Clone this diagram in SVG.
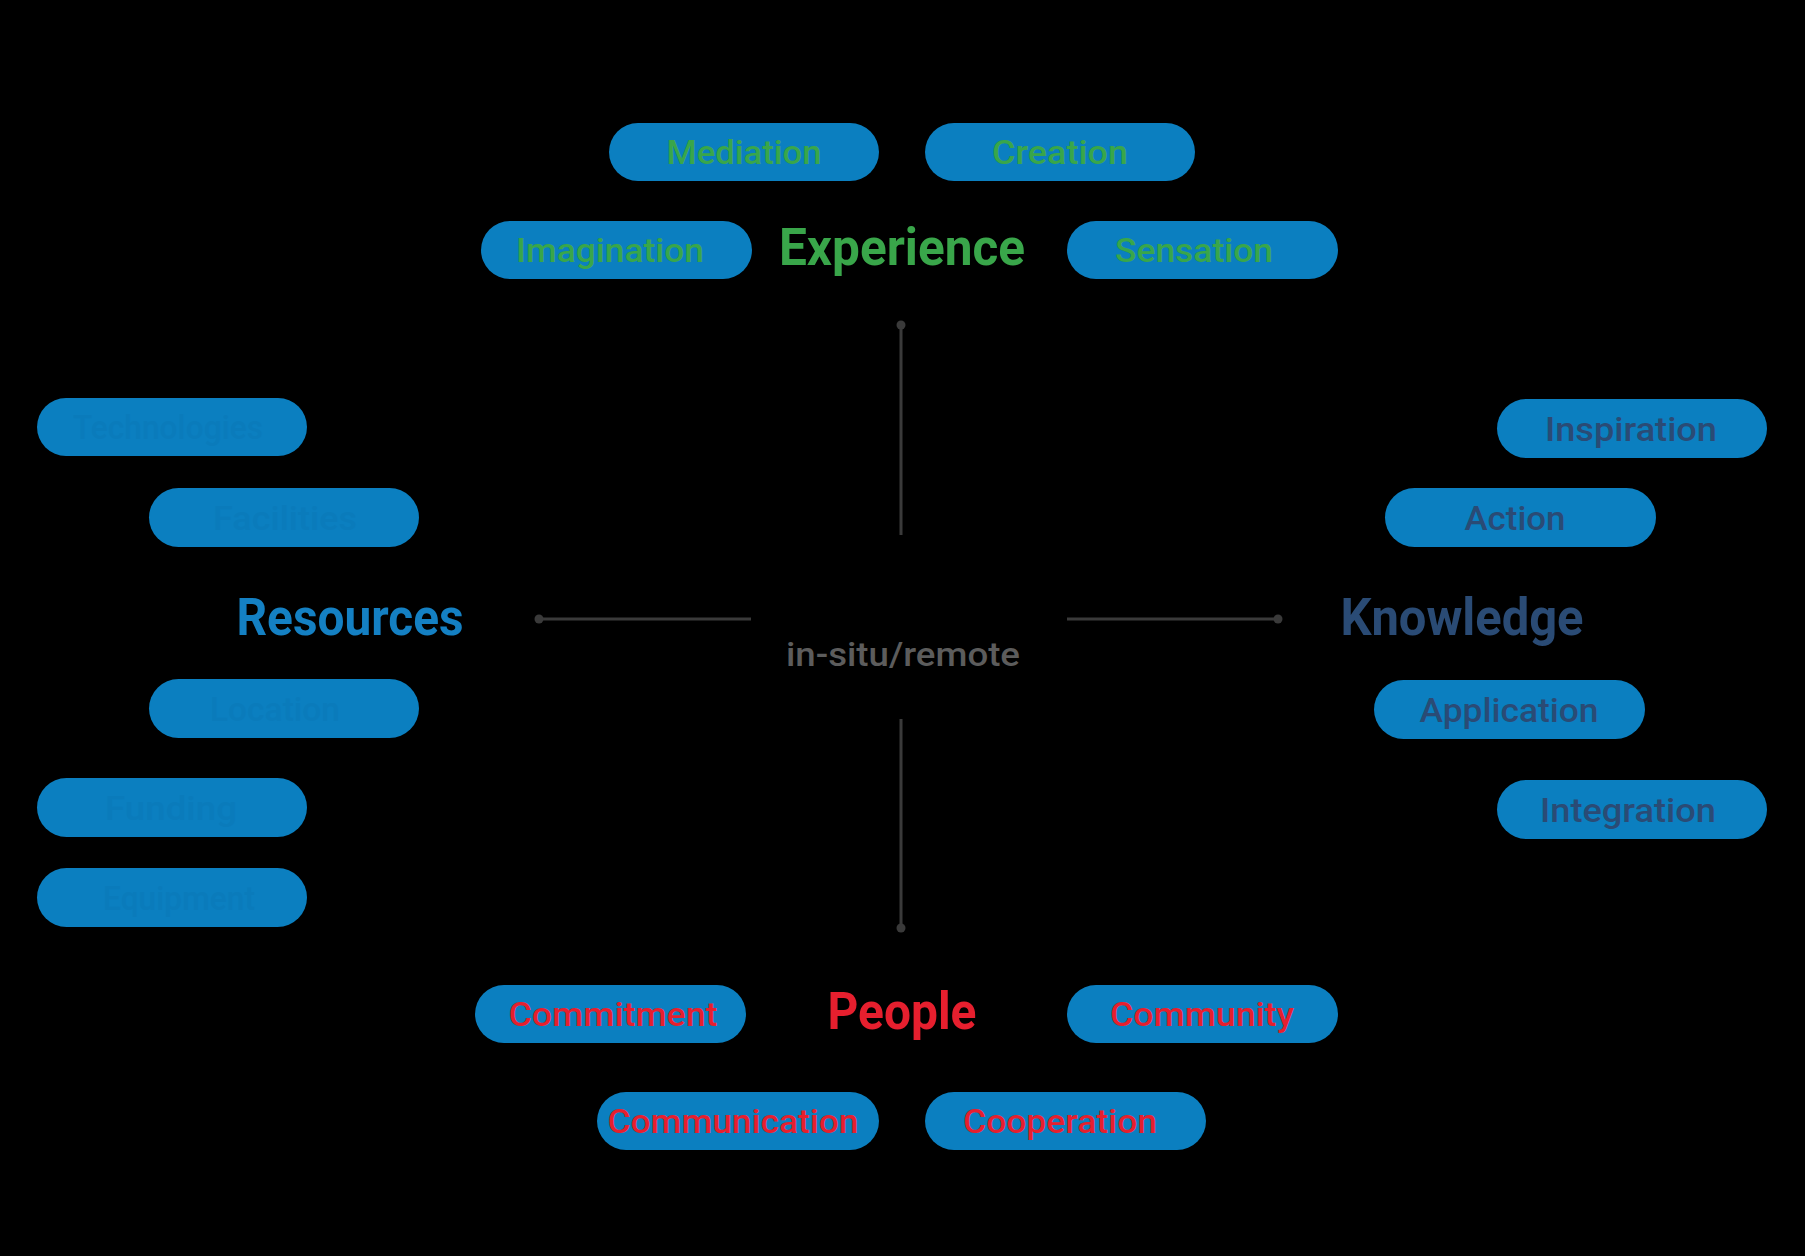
<svg xmlns="http://www.w3.org/2000/svg" width="1805" height="1256" viewBox="0 0 1805 1256">
<style>
.pill{fill:#0b7fc0}
.pt{font-family:Roboto,"Liberation Sans",sans-serif;font-weight:500;font-size:34px;text-anchor:middle}
.hd{font-family:Roboto,"Liberation Sans",sans-serif;font-weight:700;font-size:52px;text-anchor:middle}
.g{fill:#39a64a}
.n{fill:#2a4b75}
.r{fill:#e61f2e}
.b{fill:#0a7bbb}
.bh{fill:#1480c3}
.ln{stroke:#3a3a3a;stroke-width:3;fill:none}
.dot{fill:#3a3a3a}
.ctr{font-family:Roboto,"Liberation Sans",sans-serif;font-weight:500;font-size:33px;text-anchor:middle;fill:#5c5c5c}
</style>
<rect x="0" y="0" width="1805" height="1256" fill="#000"/>

<g id="connectors">
<line class="ln" x1="901" y1="325" x2="901" y2="535"/>
<circle class="dot" cx="901" cy="325" r="4.5"/>
<line class="ln" x1="901" y1="719" x2="901" y2="928"/>
<circle class="dot" cx="901" cy="928" r="4.5"/>
<line class="ln" x1="539" y1="619" x2="751" y2="619"/>
<circle class="dot" cx="539" cy="619" r="4.5"/>
<line class="ln" x1="1067" y1="619" x2="1278" y2="619"/>
<circle class="dot" cx="1278" cy="619" r="4.5"/>
</g>

<g id="center"><text class="ctr" x="903" y="666" textLength="234" lengthAdjust="spacingAndGlyphs">in-situ/remote</text></g>

<g id="experience">
<text class="hd g" x="902" y="265" textLength="246" lengthAdjust="spacingAndGlyphs">Experience</text>
</g>
<g id="mediation"><rect class="pill" x="609" y="123" width="270" height="58" rx="29"/><text class="pt g" x="744" y="164" textLength="155" lengthAdjust="spacingAndGlyphs">Mediation</text></g>
<g id="creation"><rect class="pill" x="925" y="123" width="270" height="58" rx="29"/><text class="pt g" x="1060" y="164" textLength="136" lengthAdjust="spacingAndGlyphs">Creation</text></g>
<g id="imagination"><rect class="pill" x="481" y="221" width="271" height="58" rx="29"/><text class="pt g" x="610" y="262" textLength="188" lengthAdjust="spacingAndGlyphs">Imagination</text></g>
<g id="sensation"><rect class="pill" x="1067" y="221" width="271" height="58" rx="29"/><text class="pt g" x="1194" y="262" textLength="158" lengthAdjust="spacingAndGlyphs">Sensation</text></g>

<g id="knowledge">
<text class="hd n" x="1462" y="635" textLength="243" lengthAdjust="spacingAndGlyphs">Knowledge</text>
</g>
<g id="inspiration"><rect class="pill" x="1497" y="399" width="270" height="59" rx="29.5"/><text class="pt n" x="1631" y="440.5" textLength="172" lengthAdjust="spacingAndGlyphs">Inspiration</text></g>
<g id="action"><rect class="pill" x="1385" y="488" width="271" height="59" rx="29.5"/><text class="pt n" x="1515" y="529.5" textLength="101" lengthAdjust="spacingAndGlyphs">Action</text></g>
<g id="application"><rect class="pill" x="1374" y="680" width="271" height="59" rx="29.5"/><text class="pt n" x="1509" y="721.5" textLength="179" lengthAdjust="spacingAndGlyphs">Application</text></g>
<g id="integration"><rect class="pill" x="1497" y="780" width="270" height="59" rx="29.5"/><text class="pt n" x="1628" y="821.5" textLength="176" lengthAdjust="spacingAndGlyphs">Integration</text></g>

<g id="resources">
<text class="hd bh" x="350" y="635" textLength="227" lengthAdjust="spacingAndGlyphs">Resources</text>
</g>
<g id="technologies"><rect class="pill" x="37" y="398" width="270" height="58" rx="29"/><text class="pt b" x="168" y="439" textLength="190" lengthAdjust="spacingAndGlyphs">Technologies</text></g>
<g id="facilities"><rect class="pill" x="149" y="488" width="270" height="59" rx="29.5"/><text class="pt b" x="285" y="529.5" textLength="144" lengthAdjust="spacingAndGlyphs">Facilities</text></g>
<g id="location"><rect class="pill" x="149" y="679" width="270" height="59" rx="29.5"/><text class="pt b" x="275" y="720.5" textLength="130" lengthAdjust="spacingAndGlyphs">Location</text></g>
<g id="funding"><rect class="pill" x="37" y="778" width="270" height="59" rx="29.5"/><text class="pt b" x="171" y="819.5" textLength="132" lengthAdjust="spacingAndGlyphs">Funding</text></g>
<g id="equipment"><rect class="pill" x="37" y="868" width="270" height="59" rx="29.5"/><text class="pt b" x="179" y="909.5" textLength="152" lengthAdjust="spacingAndGlyphs">Equipment</text></g>

<g id="people">
<text class="hd r" x="902" y="1029" textLength="149" lengthAdjust="spacingAndGlyphs">People</text>
</g>
<g id="commitment"><rect class="pill" x="475" y="985" width="271" height="58" rx="29"/><text class="pt r" x="613" y="1026" textLength="209" lengthAdjust="spacingAndGlyphs">Commitment</text></g>
<g id="community"><rect class="pill" x="1067" y="985" width="271" height="58" rx="29"/><text class="pt r" x="1202" y="1026" textLength="184" lengthAdjust="spacingAndGlyphs">Community</text></g>
<g id="communication"><rect class="pill" x="597" y="1092" width="282" height="58" rx="29"/><text class="pt r" x="733" y="1133" textLength="251" lengthAdjust="spacingAndGlyphs">Communication</text></g>
<g id="cooperation"><rect class="pill" x="925" y="1092" width="281" height="58" rx="29"/><text class="pt r" x="1060" y="1133" textLength="194" lengthAdjust="spacingAndGlyphs">Cooperation</text></g>
</svg>
